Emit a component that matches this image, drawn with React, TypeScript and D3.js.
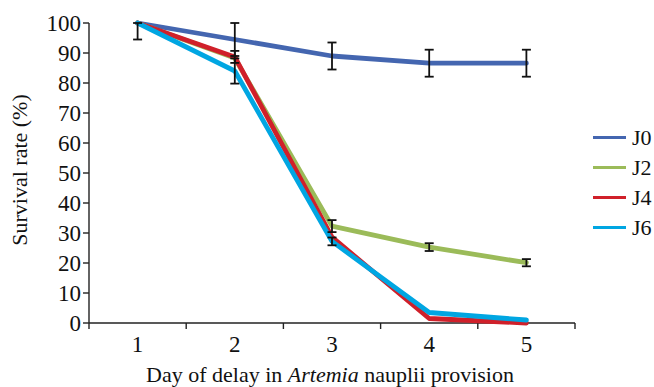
import React from 'react';
import * as d3 from 'd3';

const days = ['1', '2', '3', '4', '5'];
const seriesNames = ['J0', 'J2', 'J4', 'J6'];
const seriesColors = ['#4466b0', '#9bbb59', '#d0202a', '#00a6e2'];
const j0 = [100, 94.5, 89, 86.6, 86.6];
const j2 = [100, 88.3, 32.3, 25.3, 20.1];
const j4 = [100, 88.7, 28.6, 1.5, 0];
const j6 = [100, 84, 27.2, 3.5, 1];
// error bars (+/-), shown in black
const j0Err = [5.5, 5.5, 4.5, 4.5, 4.5];
const j2Err = [0, 0, 2, 1.3, 1.2];
const j4Err = [0, 2, 0, 0, 0];
const j6Err = [0, 4.2, 1.3, 0, 0];
const yTicks = [0, 10, 20, 30, 40, 50, 60, 70, 80, 90, 100];

const allValues = [j0, j2, j4, j6];
const allErrs = [j0Err, j2Err, j4Err, j6Err];

export default function App() {
  const width = 654;
  const height = 387;
  const margin = { left: 89, top: 23, right: 79, bottom: 64 };
  const x = d3.scaleBand().domain(days).range([margin.left, width - margin.right]);
  const y = d3.scaleLinear().domain([0, 100]).range([height - margin.bottom, margin.top]);
  const cx = (d: string) => (x(d) as number) + x.bandwidth() / 2;
  const line = d3.line<number>()
    .x((_, i) => cx(days[i]))
    .y(v => y(v));
  const font = '"Liberation Serif", "Times New Roman", serif';
  const axisColor = '#222';
  const fs = 22;

  return (
    <svg width={width} height={height} style={{ position: 'absolute', left: 0, top: 0, background: '#fff', fontFamily: font }}>
      {/* y axis */}
      <line x1={margin.left} x2={margin.left} y1={y(100)} y2={y(0)} stroke={axisColor} strokeWidth={1.4} />
      {yTicks.map(t => (
        <g key={t}>
          <line x1={margin.left - 6} x2={margin.left} y1={y(t)} y2={y(t)} stroke={axisColor} strokeWidth={1.4} />
          <text x={margin.left - 8} y={y(t)} dy="0.33em" textAnchor="end" fontSize={fs + 1} fill="#111">{t}</text>
        </g>
      ))}
      {/* x axis */}
      <line x1={margin.left} x2={width - margin.right} y1={y(0)} y2={y(0)} stroke={axisColor} strokeWidth={1.4} />
      {[...days.map(d => x(d) as number), width - margin.right].map((p, i) => (
        <line key={i} x1={p} x2={p} y1={y(0)} y2={y(0) + 6} stroke={axisColor} strokeWidth={1.4} />
      ))}
      {days.map(d => (
        <text key={d} x={cx(d)} y={y(0) + 29} textAnchor="middle" fontSize={fs + 1} fill="#111">{d}</text>
      ))}
      <text x={(margin.left + width - margin.right) / 2 - 2} y={382} textAnchor="middle" fontSize={fs} fill="#111">
        Day of delay in <tspan fontStyle="italic">Artemia</tspan> nauplii provision
      </text>
      <text transform={`translate(27,170) rotate(-90)`} textAnchor="middle" fontSize={fs} fill="#111">
        Survival rate (%)
      </text>
      {/* lines */}
      {allValues.map((vals, si) => (
        <path key={si} d={line(vals) || ''} fill="none" stroke={seriesColors[si]} strokeWidth={4.8}
          strokeLinejoin="round" strokeLinecap="round" />
      ))}
      {/* error bars */}
      {allValues.map((vals, si) => vals.map((v, i) => {
        const e = allErrs[si][i];
        if (!e) return null;
        const top = y(Math.min(100, v + e));
        const bot = y(v - e);
        const px = cx(days[i]);
        return (
          <g key={`${si}-${i}`} stroke="#111" strokeWidth={1.8}>
            <line x1={px} x2={px} y1={top} y2={bot} />
            <line x1={px - 4.5} x2={px + 4.5} y1={top} y2={top} />
            <line x1={px - 4.5} x2={px + 4.5} y1={bot} y2={bot} />
          </g>
        );
      }))}
      {/* legend */}
      {seriesNames.map((n, i) => (
        <g key={n} transform={`translate(593,${137.5 + i * 30})`}>
          <line x1={0} x2={33} y1={0} y2={0} stroke={seriesColors[i]} strokeWidth={3} />
          <text x={39} y={0} dy="0.33em" fontSize={fs} fill="#111">{n}</text>
        </g>
      ))}
    </svg>
  );
}
